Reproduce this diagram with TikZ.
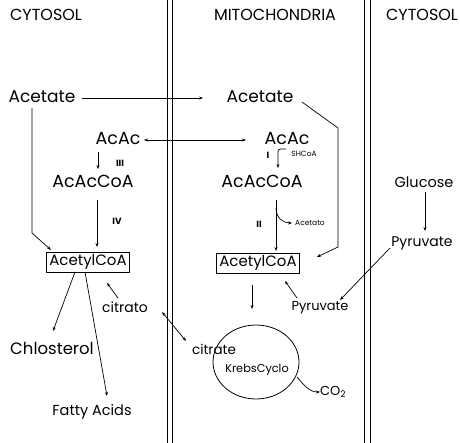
\documentclass[tikz,border=0pt]{standalone}
\usepackage{fontspec}
\setmainfont{Poppins}
\usetikzlibrary{arrows.meta,shapes.geometric}
\newcommand{\fsz}[1]{\fontsize{#1}{#1}\selectfont}
\begin{document}
\begin{tikzpicture}[x=1pt,y=-1pt,
  lbl/.style={inner sep=0pt,font=\fsz{15}},
  hdr/.style={inner sep=0pt,font=\fsz{16}},
  mid/.style={inner sep=0pt,font=\fsz{13}},
  tiny/.style={inner sep=0pt,font=\fsz{7.5}},
  roman/.style={inner sep=0pt,font=\rmfamily\bfseries\fsz{9}},
  boxed/.style={draw,line width=0.8pt,inner xsep=2.5pt,inner ysep=2.5pt,font=\fsz{15}},
  arr/.style={line width=0.7pt,-{Stealth[length=4pt,width=3pt]}},
  darr/.style={line width=0.7pt,{Stealth[length=4pt,width=3pt]}-{Stealth[length=4pt,width=3pt]}},
  memb/.style={line width=0.9pt}]
\useasboundingbox (0,0) rectangle (460,443);
\fill[white] (0,0) rectangle (460,443);
% membranes
\draw[memb] (167,0) -- (167,443);
\draw[memb] (172,0) -- (172,443);
\draw[memb] (364,0) -- (364,443);
\draw[memb] (370,0) -- (370,443);
% headers
\node[hdr] (cyt1) at (46,15) {CYTOSOL};
\node[hdr] (mito) at (275,15) {MITOCHONDRIA};
\node[hdr] (cyt2) at (422,15) {CYTOSOL};
% left cytosol
\node[lbl,font=\fsz{17}] (aceL) at (42,97) {Acetate};
\node[lbl,font=\fsz{17.5}] (acacL) at (118,139) {AcAc};
\node[lbl,font=\fsz{17.5}] (acaccoaL) at (93,181) {AcAcCoA};
\node[roman] (r3) at (120,163) {III};
\node[roman] (r4) at (117,221) {IV};
\node[boxed] (acetylL) at (88,262) {AcetylCoA};
\node[mid,font=\fsz{14}] (citratoL) at (125,307) {citrato};
\node[lbl,font=\fsz{16.5}] (chol) at (52,348) {Chlosterol};
\node[lbl,font=\fsz{14.5}] (fatty) at (92,412) {Fatty Acids};
% mitochondria
\node[lbl,font=\fsz{17}] (aceM) at (260,97) {Acetate};
\node[lbl,font=\fsz{17.5}] (acacM) at (287,139) {AcAc};
\node[lbl,font=\fsz{17.5}] (acaccoaM) at (262,181) {AcAcCoA};
\node[roman] (r1) at (268,155) {I};
\node[tiny] (shcoa) at (304,154) {SHCoA};
\node[roman] (r2) at (259,224) {II};
\node[tiny] (acetato) at (310,223) {Acetato};
\node[boxed] (acetylM) at (258,263) {AcetylCoA};
\node[mid] (pyrM) at (320,308) {Pyruvate};
\node[mid,font=\fsz{13.5}] (citrateM) at (214,349) {citrate};
\node[draw,ellipse,line width=0.8pt,minimum width=86pt,minimum height=74pt,inner sep=0pt] (cycle) at (256,362) {};
\node[mid,font=\fsz{11.3}] (krebs) at (257,370) {KrebsCyclo};
\node[mid] (co2) at (333,392) {CO\textsubscript{2}};
% right cytosol
\node[lbl,font=\fsz{14.5}] (glucose) at (424,182) {Glucose};
\node[lbl,font=\fsz{14}] (pyrR) at (422,243) {Pyruvate};
% connector end points
\coordinate (a1) at (82,98);   \coordinate (a2) at (203,98);
\coordinate (b1) at (144,140); \coordinate (b2) at (246,140);
\coordinate (c1) at (98,152);  \coordinate (c2) at (98,169);
\coordinate (d1) at (97,200);  \coordinate (d2) at (97,247);
\coordinate (e1) at (32,108);  \coordinate (e2) at (32,233); \coordinate (e3) at (51,250);
\coordinate (f1) at (75,272);  \coordinate (f2) at (53,331);
\coordinate (g1) at (85,272);  \coordinate (g2) at (107,396);
\coordinate (h1) at (118,298); \coordinate (h2) at (107,283);
\coordinate (i1) at (162,312); \coordinate (i2) at (186,341);
\coordinate (j1) at (286,149); \coordinate (j2) at (278,149); \coordinate (j3) at (278,168);
\coordinate (k1) at (276,200); \coordinate (k2) at (276,251);
\coordinate (l1) at (276,208); \coordinate (l2) at (292,223);
\coordinate (m1) at (302,102); \coordinate (m2) at (338,128); \coordinate (m3) at (338,247); \coordinate (m4) at (317,257);
\coordinate (n1) at (297,298); \coordinate (n2) at (285,281);
\coordinate (o1) at (390,248); \coordinate (o2) at (340,300);
\coordinate (q1) at (425,192); \coordinate (q2) at (425,231);
\coordinate (s1) at (252,285); \coordinate (s2) at (252,309);
\coordinate (t1) at (297,377); \coordinate (t2) at (320,392);
% connectors
\draw[arr] (a1) -- (a2);
\draw[darr] (b1) -- (b2);
\draw[arr] (c1) -- (c2);
\draw[arr] (d1) -- (d2);
\draw[arr] (e1) -- (e2) -- (e3);
\draw[arr] (f1) -- (f2);
\draw[arr] (g1) -- (g2);
\draw[arr] (h1) -- (h2);
\draw[darr] (i1) -- (i2);
\draw[arr,rounded corners=2.5pt] (j1) -- (j2) -- (j3);
\draw[arr] (k1) -- (k2);
\draw[arr] (l1) to[out=-90,in=180,looseness=1.1] (l2);
\draw[arr] (m1) -- (m2) -- (m3) -- (m4);
\draw[arr] (n1) -- (n2);
\draw[arr] (o1) -- (o2);
\draw[arr] (q1) -- (q2);
\draw[arr] (s1) -- (s2);
\draw[arr] (t1) to[out=-50,in=180] (t2);
\end{tikzpicture}
\end{document}
